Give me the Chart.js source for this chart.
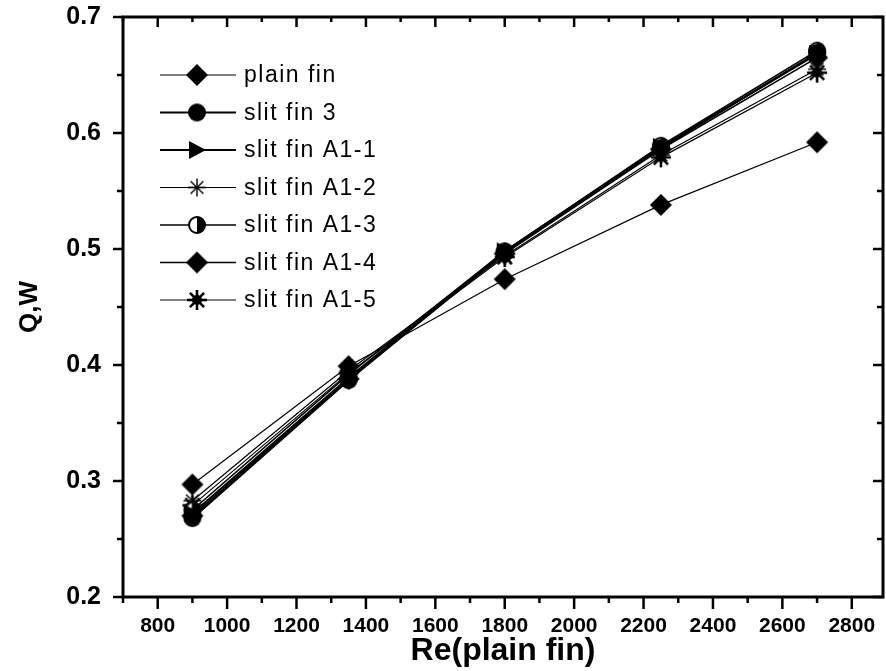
<!DOCTYPE html>
<html>
<head>
<meta charset="utf-8">
<script src="https://cdn.jsdelivr.net/npm/chart.js@4.4.1/dist/chart.umd.min.js"></script>
<style>
html,body{margin:0;padding:0;background:#fff;}
#wrap{width:886px;height:671px;position:relative;}
</style>
</head>
<body>
<div id="wrap"><canvas id="c" width="886" height="671"></canvas></div>
<script>
// ---- data ----
const reValues = [900, 1350, 1800, 2250, 2700];
const seriesNames = ['plain fin', 'slit fin 3', 'slit fin A1-1', 'slit fin A1-2', 'slit fin A1-3', 'slit fin A1-4', 'slit fin A1-5'];
const plainFin = [0.297, 0.399, 0.474, 0.538, 0.592];
const slitFin3 = [0.268, 0.387, 0.497, 0.587, 0.669];
const slitFinA1_1 = [0.272, 0.389, 0.498, 0.588, 0.668];
const slitFinA1_2 = [0.283, 0.395, 0.494, 0.581, 0.655];
const slitFinA1_3 = [0.275, 0.392, 0.498, 0.589, 0.671];
const slitFinA1_4 = [0.270, 0.388, 0.496, 0.586, 0.665];
const slitFinA1_5 = [0.279, 0.393, 0.493, 0.579, 0.652];
const xTickLabels = [800, 1000, 1200, 1400, 1600, 1800, 2000, 2200, 2400, 2600, 2800];
const yTickLabels = [0.2, 0.3, 0.4, 0.5, 0.6, 0.7];

// ---- marker images ----
function mk(w, fn) {
  const c = document.createElement('canvas');
  c.width = w; c.height = w;
  const g = c.getContext('2d');
  g.fillStyle = '#000'; g.strokeStyle = '#000';
  fn(g, w / 2);
  return c;
}
const mDiamond = mk(24, (g, m) => { g.beginPath(); g.moveTo(m, 1); g.lineTo(23, m); g.lineTo(m, 23); g.lineTo(1, m); g.closePath(); g.fill(); });
const mCircle = mk(20, (g, m) => { g.beginPath(); g.arc(m, m, 9, 0, Math.PI * 2); g.fill(); });
const mTri = mk(22, (g, m) => { g.beginPath(); g.moveTo(3, 2); g.lineTo(20, m); g.lineTo(3, 20); g.closePath(); g.fill(); });
const mAst = mk(22, (g, m) => {
  g.lineWidth = 1.4;
  for (let k = 0; k < 4; k++) { const a = k * Math.PI / 4; g.beginPath(); g.moveTo(m - 9 * Math.cos(a), m - 9 * Math.sin(a)); g.lineTo(m + 9 * Math.cos(a), m + 9 * Math.sin(a)); g.stroke(); }
});
const mHalf = mk(20, (g, m) => {
  g.fillStyle = '#fff'; g.beginPath(); g.arc(m, m, 8, 0, Math.PI * 2); g.fill();
  g.fillStyle = '#000'; g.beginPath(); g.arc(m, m, 8.5, -Math.PI / 2, Math.PI / 2); g.closePath(); g.fill();
  g.lineWidth = 2; g.beginPath(); g.arc(m, m, 8, 0, Math.PI * 2); g.stroke();
});
const mStar = mk(24, (g, m) => {
  g.lineWidth = 2.6;
  for (let k = 0; k < 4; k++) { const a = k * Math.PI / 4; g.beginPath(); g.moveTo(m - 10 * Math.cos(a), m - 10 * Math.sin(a)); g.lineTo(m + 10 * Math.cos(a), m + 10 * Math.sin(a)); g.stroke(); }
  g.beginPath(); g.arc(m, m, 5, 0, Math.PI * 2); g.fill();
});

const seriesValues = [plainFin, slitFin3, slitFinA1_1, slitFinA1_2, slitFinA1_3, slitFinA1_4, slitFinA1_5];
const markers = [mDiamond, mCircle, mTri, mAst, mHalf, mDiamond, mStar];
const widths = [1.2, 2.2, 2.2, 1.2, 1.6, 1.6, 1.2];

const datasets = seriesNames.map((name, i) => ({
  label: name,
  data: reValues.map((x, j) => ({ x: x, y: seriesValues[i][j] })),
  borderColor: '#000',
  backgroundColor: '#000',
  borderWidth: widths[i],
  pointStyle: markers[i],
  pointRadius: 10,
  pointHoverRadius: 10,
  tension: 0,
  fill: false
}));

function midpoints(arr) {
  const out = [];
  for (let i = 0; i < arr.length - 1; i++) out.push((arr[i] + arr[i + 1]) / 2);
  return out;
}
function withEnds(arr) {
  const step = arr[1] - arr[0];
  return [arr[0] - step / 2].concat(midpoints(arr), [arr[arr.length - 1] + step / 2]);
}

const framePlugin = {
  id: 'frame',
  afterDraw(chart) {
    const ctx = chart.ctx, a = chart.chartArea;
    const xs = chart.scales.x, ys = chart.scales.y;
    ctx.save();
    ctx.strokeStyle = '#000';
    ctx.lineWidth = 3;
    ctx.strokeRect(a.left, a.top, a.right - a.left, a.bottom - a.top);
    ctx.lineWidth = 2.5;
    const tick = (x1, y1, x2, y2) => { ctx.beginPath(); ctx.moveTo(x1, y1); ctx.lineTo(x2, y2); ctx.stroke(); };
    xTickLabels.forEach(v => { const p = xs.getPixelForValue(v); tick(p, a.bottom, p, a.bottom + 12); tick(p, a.top, p, a.top + 10); });
    withEnds(xTickLabels).forEach(v => { if (v < xs.min || v > xs.max) return; const p = xs.getPixelForValue(v); tick(p, a.bottom, p, a.bottom + 6); tick(p, a.top, p, a.top + 5); });
    yTickLabels.forEach(v => { const p = ys.getPixelForValue(v); tick(a.left, p, a.left - 10, p); tick(a.right, p, a.right - 10, p); });
    midpoints(yTickLabels).forEach(v => { const p = ys.getPixelForValue(v); tick(a.left, p, a.left - 6, p); tick(a.right, p, a.right - 6, p); });

    // legend
    const x0 = a.left + 37, x1 = a.left + 113, mx = a.left + 74, tx = a.left + 121;
    ctx.font = '23px "Liberation Sans", Arial, sans-serif';
    try { ctx.letterSpacing = '1.5px'; } catch (e) {}
    ctx.textBaseline = 'middle';
    ctx.fillStyle = '#000';
    chart.data.datasets.forEach((ds, i) => {
      const y = a.top + 58 + i * 37.5;
      ctx.lineWidth = ds.borderWidth;
      tick(x0, y, x1, y);
      const img = ds.pointStyle;
      ctx.drawImage(img, mx - img.width / 2, y - img.height / 2);
      ctx.fillText(ds.label, tx, y + 1);
    });
    ctx.restore();
  }
};

new Chart(document.getElementById('c'), {
  type: 'line',
  data: { datasets: datasets },
  options: {
    responsive: false,
    animation: false,
    events: [],
    layout: { autoPadding: false, padding: { top: 17, right: 3, left: 0, bottom: 0 } },
    plugins: { legend: { display: false }, tooltip: { enabled: false } },
    scales: {
      x: {
        type: 'linear',
        min: 700,
        max: 2890,
        afterBuildTicks: s => { s.ticks = xTickLabels.map(v => ({ value: v })); },
        afterFit: s => { s.height = 74; s.paddingLeft = 0; s.paddingRight = 0; },
        grid: { display: false, drawTicks: false },
        border: { display: false },
        ticks: { color: '#000', padding: 17, maxRotation: 0, autoSkip: false, font: { family: '"Liberation Sans", Arial, sans-serif', size: 21, weight: 'bold' }, callback: v => String(v) },
        title: { display: true, text: 'Re(plain fin)', color: '#000', font: { family: '"Liberation Sans", Arial, sans-serif', size: 32, weight: 'bold', lineHeight: 1.0 }, padding: { top: 0, bottom: 4 } }
      },
      y: {
        type: 'linear',
        min: 0.2,
        max: 0.7,
        afterBuildTicks: s => { s.ticks = yTickLabels.map(v => ({ value: v })); },
        afterFit: s => { s.width = 123; s.paddingTop = 0; s.paddingBottom = 0; },
        grid: { display: false, drawTicks: false },
        border: { display: false },
        ticks: { color: '#000', padding: 22, font: { family: '"Liberation Sans", Arial, sans-serif', size: 25, weight: 'bold' }, callback: v => Number(v).toFixed(1) },
        title: { display: true, text: 'Q,W', color: '#000', font: { family: '"Liberation Sans", Arial, sans-serif', size: 26, weight: 'bold', lineHeight: 1.0 }, padding: { top: 17, bottom: 0 } }
      }
    }
  },
  plugins: [framePlugin]
});
</script>
</body>
</html>
